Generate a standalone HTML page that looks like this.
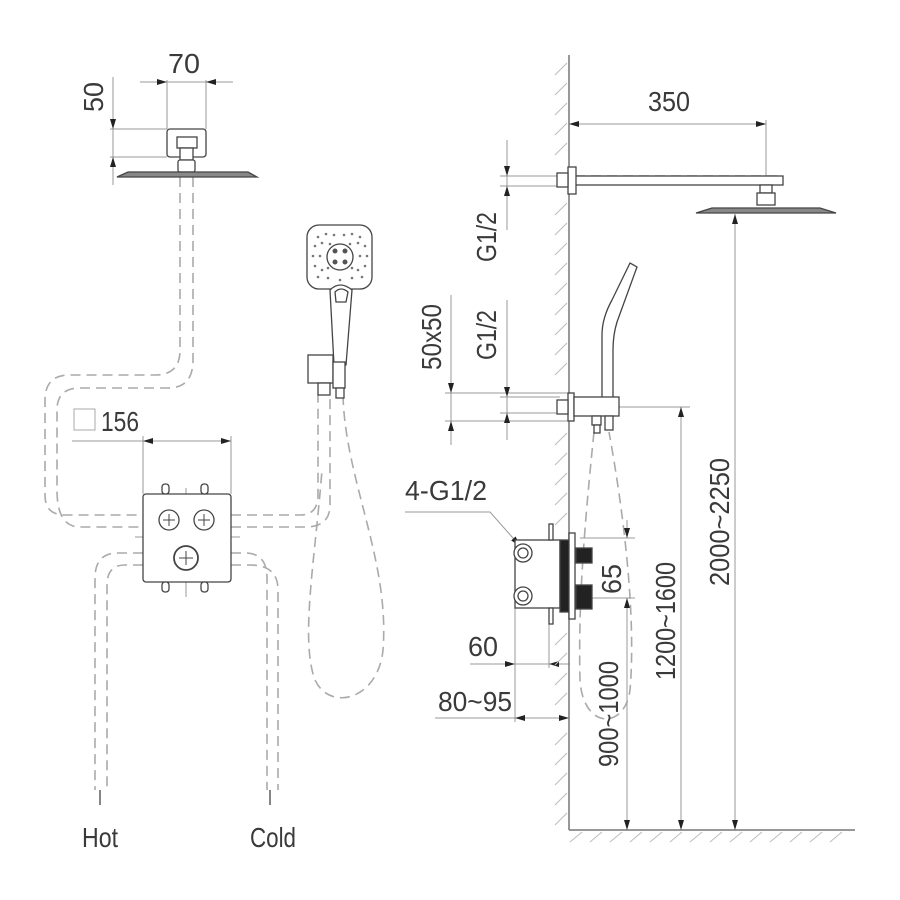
<!DOCTYPE html>
<html><head><meta charset="utf-8"><style>
html,body{margin:0;padding:0;background:#fff}
svg{display:block}
text{font-family:"Liberation Sans",sans-serif;fill:#3a3a3a;font-size:28px}
</style></head><body>
<svg width="900" height="900" viewBox="0 0 900 900" xmlns="http://www.w3.org/2000/svg">
<defs>
<marker id="a" viewBox="0 0 10 6" refX="10" refY="3" markerWidth="16" markerHeight="6" markerUnits="userSpaceOnUse" orient="auto-start-reverse"><path d="M0,0 L10,3 L0,6 Z" fill="#222"/></marker>
</defs>
<g fill="none" stroke="#aaa" stroke-width="1.6" stroke-dasharray="10,6">
<path d="M180,177 V350 Q180,375 155,375 H70 Q45,375 45,400 V495 Q45,515 65,515 H143"/>
<path d="M193,177 V360 Q193,388 168,388 H80 Q57,388 57,410 V490 Q57,527 80,527 H143"/>
<path d="M231,515 H300 Q318,515 318,495 V395"/>
<path d="M231,527 H305 Q330,527 330,505 V395"/>
<path d="M143,553 H118 Q95,553 95,578 V790"/>
<path d="M143,565 H125 Q107,565 107,585 V790"/>
<path d="M231,553 H245 Q267,553 267,578 V790"/>
<path d="M231,565 H250 Q278,565 278,590 V790"/>
<path d="M343,395 C345,480 390,560 383,650 C378,700 330,712 315,680 C300,640 315,560 322,470"/>
<path d="M594,432 C585,520 578,600 580,680 C583,730 625,730 630,690 C636,620 625,520 609,432"/>
<path d="M575,176 H780"/>
<path d="M573,407 H619"/>
</g>
<g stroke="#444" stroke-width="1.3" fill="none">
<line x1="100" y1="790" x2="100" y2="805"/><line x1="270" y1="790" x2="270" y2="805"/>
</g>
<g stroke="#999" stroke-width="1" fill="none">
<line x1="167" y1="80" x2="167" y2="129"/><line x1="206" y1="80" x2="206" y2="129"/>
<line x1="110" y1="129" x2="167" y2="129"/><line x1="110" y1="157" x2="167" y2="157"/>
<line x1="113" y1="77" x2="113" y2="185"/>
<line x1="143" y1="436" x2="143" y2="494"/><line x1="231" y1="436" x2="231" y2="494"/>
<line x1="72" y1="441" x2="143" y2="441"/>
<line x1="186" y1="488" x2="186" y2="597"/><line x1="135" y1="537" x2="240" y2="537"/>
<line x1="766" y1="120" x2="766" y2="185"/>
<line x1="500" y1="176" x2="560" y2="176"/><line x1="500" y1="186" x2="560" y2="186"/>
<line x1="507" y1="140" x2="507" y2="230"/>
<line x1="500" y1="397" x2="560" y2="397"/><line x1="500" y1="413" x2="560" y2="413"/>
<line x1="507" y1="300" x2="507" y2="440"/>
<line x1="445" y1="393" x2="570" y2="393"/><line x1="445" y1="421" x2="570" y2="421"/>
<line x1="451" y1="295" x2="451" y2="445"/>
<line x1="619" y1="407" x2="690" y2="407"/>
<line x1="515" y1="600" x2="515" y2="722"/><line x1="549" y1="610" x2="549" y2="668"/>
<line x1="470" y1="664" x2="515" y2="664"/><line x1="435" y1="718" x2="515" y2="718"/>
<line x1="580" y1="538" x2="635" y2="538"/><line x1="580" y1="598" x2="635" y2="598"/>
</g>
<g stroke="#999" stroke-width="1" fill="none">
<line x1="140" y1="82" x2="167" y2="82" marker-end="url(#a)"/>
<line x1="167" y1="82" x2="206" y2="82"/>
<line x1="233" y1="82" x2="206" y2="82" marker-end="url(#a)"/>
<line x1="113" y1="110" x2="113" y2="129" marker-end="url(#a)"/>
<line x1="113" y1="175" x2="113" y2="157" marker-end="url(#a)"/>
<line x1="143" y1="441" x2="231" y2="441" marker-start="url(#a)" marker-end="url(#a)"/>
<line x1="569" y1="124" x2="766" y2="124" marker-start="url(#a)" marker-end="url(#a)"/>
<line x1="507" y1="160" x2="507" y2="176" marker-end="url(#a)"/>
<line x1="507" y1="202" x2="507" y2="186" marker-end="url(#a)"/>
<line x1="507" y1="380" x2="507" y2="397" marker-end="url(#a)"/>
<line x1="507" y1="430" x2="507" y2="413" marker-end="url(#a)"/>
<line x1="451" y1="375" x2="451" y2="393" marker-end="url(#a)"/>
<line x1="451" y1="440" x2="451" y2="421" marker-end="url(#a)"/>
<line x1="735" y1="214" x2="735" y2="830" marker-start="url(#a)" marker-end="url(#a)"/>
<line x1="681" y1="407" x2="681" y2="830" marker-start="url(#a)" marker-end="url(#a)"/>
<line x1="627" y1="598" x2="627" y2="830" marker-end="url(#a)"/>
<line x1="627" y1="520" x2="627" y2="538" marker-end="url(#a)"/>
<line x1="627" y1="620" x2="627" y2="598" marker-end="url(#a)"/>
<line x1="490" y1="664" x2="515" y2="664" marker-end="url(#a)"/>
<line x1="570" y1="664" x2="549" y2="664" marker-end="url(#a)"/>
<line x1="515" y1="664" x2="549" y2="664"/>
<line x1="569" y1="718" x2="515" y2="718" marker-start="url(#a)" marker-end="url(#a)"/>
<polyline points="405,512 490,512 520,546" marker-end="url(#a)"/>
</g>
<g stroke="#777" stroke-width="1.5" fill="none">
<line x1="569" y1="55" x2="569" y2="830"/><line x1="569" y1="830" x2="855" y2="830"/>
</g>
<g stroke="#bbb" stroke-width="1" fill="none">
<path d="M555,75 l12,-12 M555,95 l12,-12 M555,115 l12,-12 M555,135 l12,-12 M555,155 l12,-12 M555,215 l12,-12 M555,235 l12,-12 M555,255 l12,-12 M555,275 l12,-12 M555,295 l12,-12 M555,315 l12,-12 M555,335 l12,-12 M555,355 l12,-12 M555,375 l12,-12 M555,445 l12,-12 M555,465 l12,-12 M555,485 l12,-12 M555,505 l12,-12 M555,525 l12,-12 M555,645 l12,-12 M555,665 l12,-12 M555,685 l12,-12 M555,705 l12,-12 M555,745 l12,-12 M555,765 l12,-12 M555,785 l12,-12 M555,805 l12,-12 M555,825 l12,-12"/>
<path d="M570,842 l12,-10 M590,842 l12,-10 M610,842 l12,-10 M630,842 l12,-10 M650,842 l12,-10 M670,842 l12,-10 M690,842 l12,-10 M710,842 l12,-10 M730,842 l12,-10 M750,842 l12,-10 M770,842 l12,-10 M790,842 l12,-10 M810,842 l12,-10 M830,842 l12,-10"/>
</g>
<g stroke="#444" stroke-width="1.3" fill="#fff">
<rect x="167" y="129" width="39" height="28" rx="3"/>
<rect x="177" y="137" width="20" height="11"/>
<rect x="180" y="148" width="13" height="12"/>
<rect x="178" y="160" width="17" height="12" rx="2"/>
<path d="M117,177 L128,172 H248 L257,177 Z" fill="#888"/>
<rect x="143" y="494" width="88" height="88" rx="3"/>
<circle cx="169" cy="520" r="10"/><circle cx="204" cy="520" r="10"/><circle cx="186" cy="558" r="12" stroke-width="1.8"/>
<path d="M163,520 h12 M169,514 v12 M198,520 h12 M204,514 v12 M179,558 h14 M186,551 v14" stroke-width="1"/>
<rect x="162" y="484" width="7" height="10" rx="3"/><rect x="201" y="484" width="7" height="10" rx="3"/>
<rect x="162" y="582" width="7" height="10" rx="3"/><rect x="201" y="582" width="7" height="10" rx="3"/>
<rect x="307" y="225" width="65" height="64" rx="12"/>
<path d="M330,290 Q340,280 352,290 L346,365 H334 Z"/>
<path d="M335,292 Q341,286 348,292 L346,302 H336 Z"/>
<circle cx="340" cy="257" r="13"/>
<rect x="308" y="355" width="25" height="28"/>
<rect x="333" y="362" width="12" height="26"/>
<rect x="318" y="383" width="12" height="12"/>
<rect x="336" y="388" width="8" height="10"/>
<rect x="572" y="176" width="211" height="9"/>
<rect x="568" y="167" width="8" height="27"/>
<rect x="557" y="173" width="11" height="14"/>
<rect x="760" y="185" width="12" height="8"/>
<rect x="757" y="193" width="18" height="12"/>
<path d="M696,213 L712,208 H820 L836,213 Z" fill="#888"/>
<path d="M602,398 V335 Q602,318 612,300 L630,263 L637,267 L617,322 Q613,335 613,350 V398 Z"/>
<rect x="568" y="393" width="6" height="28"/>
<rect x="557" y="400" width="11" height="14"/>
<rect x="574" y="397" width="45" height="19"/>
<rect x="592" y="416" width="9" height="9"/><rect x="594" y="425" width="6" height="8"/>
<rect x="605" y="416" width="8" height="14"/>
<rect x="515" y="540" width="45" height="68"/>
<circle cx="523" cy="553" r="9"/><circle cx="523" cy="553" r="5"/>
<circle cx="523" cy="596" r="9"/><circle cx="523" cy="596" r="5"/>
<rect x="549" y="524" width="4" height="16"/><rect x="549" y="608" width="4" height="16"/>
<rect x="560" y="540" width="10" height="72" fill="#222"/>
<rect x="569" y="533" width="6" height="86"/>
<rect x="576" y="548" width="16" height="15" fill="#222"/>
<rect x="576" y="585" width="16" height="24" fill="#222"/>
<rect x="74" y="409" width="21" height="21" stroke="#aaa" stroke-width="1"/>
</g>
<g fill="#555">
<circle cx="335" cy="251" r="2.5"/><circle cx="345" cy="251" r="2.5"/><circle cx="335" cy="262" r="2.5"/><circle cx="345" cy="262" r="2.5"/>
</g>
<g fill="#777">
<circle cx="318" cy="237" r="1.3"/><circle cx="326" cy="234" r="1.3"/><circle cx="334" cy="235" r="1.3"/><circle cx="344" cy="235" r="1.3"/><circle cx="352" cy="234" r="1.3"/><circle cx="360" cy="237" r="1.3"/>
<circle cx="315" cy="246" r="1.3"/><circle cx="322" cy="243" r="1.3"/><circle cx="358" cy="243" r="1.3"/><circle cx="365" cy="246" r="1.3"/>
<circle cx="313" cy="256" r="1.3"/><circle cx="320" cy="256" r="1.3"/><circle cx="360" cy="256" r="1.3"/><circle cx="367" cy="256" r="1.3"/>
<circle cx="315" cy="266" r="1.3"/><circle cx="322" cy="270" r="1.3"/><circle cx="358" cy="270" r="1.3"/><circle cx="365" cy="266" r="1.3"/>
<circle cx="318" cy="277" r="1.3"/><circle cx="328" cy="278" r="1.3"/><circle cx="340" cy="280" r="1.3"/><circle cx="352" cy="278" r="1.3"/><circle cx="362" cy="277" r="1.3"/>
<circle cx="330" cy="244" r="1.3"/><circle cx="350" cy="244" r="1.3"/><circle cx="328" cy="268" r="1.3"/><circle cx="352" cy="268" r="1.3"/>
</g>
<g>
<text x="168" y="73" textLength="32" lengthAdjust="spacingAndGlyphs">70</text>
<text transform="translate(103,112) rotate(-90)" textLength="30" lengthAdjust="spacingAndGlyphs">50</text>
<text x="101" y="431" textLength="38" lengthAdjust="spacingAndGlyphs">156</text>
<text x="648" y="111" textLength="42" lengthAdjust="spacingAndGlyphs">350</text>
<text transform="translate(496,262) rotate(-90)" textLength="50" lengthAdjust="spacingAndGlyphs">G1/2</text>
<text transform="translate(496,360) rotate(-90)" textLength="50" lengthAdjust="spacingAndGlyphs">G1/2</text>
<text transform="translate(441,370) rotate(-90)" textLength="66" lengthAdjust="spacingAndGlyphs">50x50</text>
<text x="405" y="500" textLength="82" lengthAdjust="spacingAndGlyphs">4-G1/2</text>
<text transform="translate(621,594) rotate(-90)" textLength="30" lengthAdjust="spacingAndGlyphs">65</text>
<text x="468" y="656" textLength="30" lengthAdjust="spacingAndGlyphs">60</text>
<text x="438" y="711" textLength="74" lengthAdjust="spacingAndGlyphs">80~95</text>
<text transform="translate(618,767) rotate(-90)" textLength="106" lengthAdjust="spacingAndGlyphs">900~1000</text>
<text transform="translate(675,680) rotate(-90)" textLength="118" lengthAdjust="spacingAndGlyphs">1200~1600</text>
<text transform="translate(729,586) rotate(-90)" textLength="128" lengthAdjust="spacingAndGlyphs">2000~2250</text>
<text x="82" y="847" textLength="36" lengthAdjust="spacingAndGlyphs">Hot</text>
<text x="250" y="847" textLength="46" lengthAdjust="spacingAndGlyphs">Cold</text>
</g>
</svg>
</body></html>
